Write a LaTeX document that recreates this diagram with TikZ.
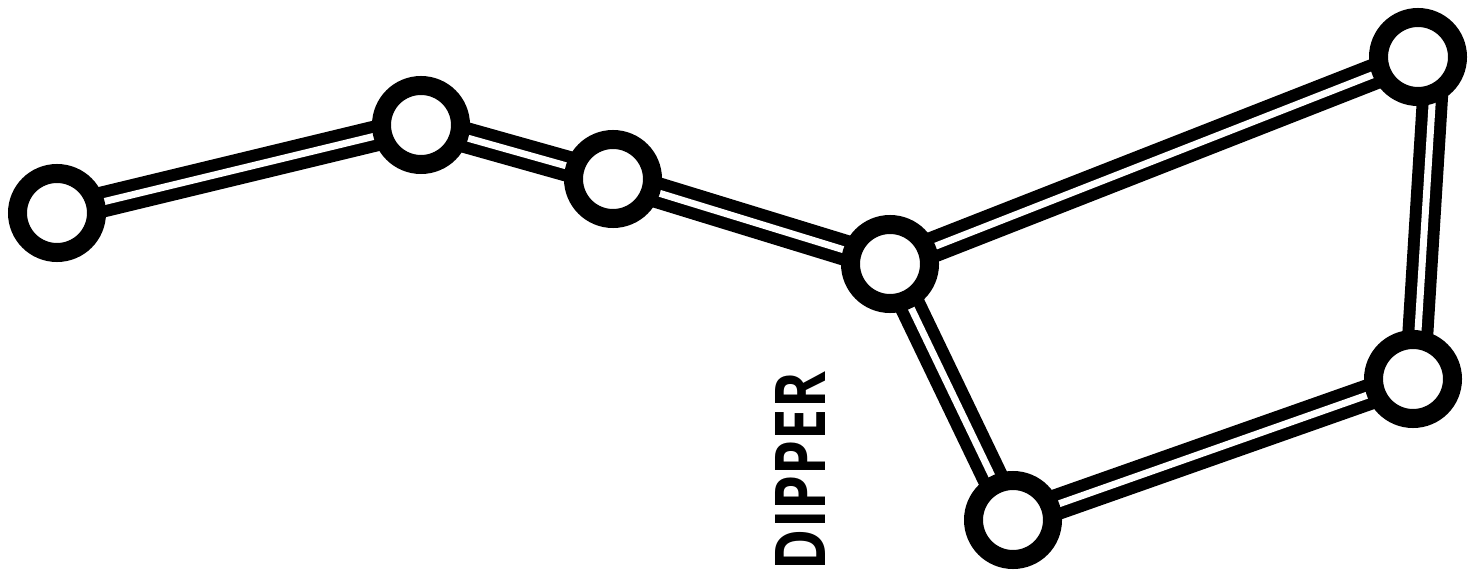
\documentclass[tikz,border=0pt]{standalone}
\usepackage{fontspec}
\usepackage{graphicx}
\setsansfont{Open Sans}
\usetikzlibrary{backgrounds,calc}
\tikzset{
  star/.style={circle, draw=black, fill=white, line width=19bp, minimum size=79bp, inner sep=0pt},
  link/.style={draw=black, line width=12bp, double=white, double distance=7bp},
}
\begin{document}
\begin{tikzpicture}[x=1bp, y=-1bp]
\useasboundingbox (0,0) rectangle (1481,574);
\node[star] (s1) at (57,213) {};
\node[star] (s2) at (421,125) {};
\node[star] (s3) at (613,179) {};
\node[star] (s4) at (890,264) {};
\node[star] (s5) at (1418,57) {};
\node[star] (s6) at (1413,379) {};
\node[star] (s7) at (1013,520) {};
\begin{pgfonlayer}{background}
\draw[link] (s1.center) -- (s2.center);
\draw[link] (s2.center) -- (s3.center);
\draw[link] (s3.center) -- (s4.center);
\draw[link] (s4.center) -- (s5.center);
\draw[link] ($(s5.center)+(17,0)$) -- ($(s6.center)+(2,0)$);
\draw[link] (s6.center) -- (s7.center);
\draw[link] (s7.center) -- (s4.center);
\end{pgfonlayer}
\node[inner sep=0pt, rotate=90] (label) at (800,471) {\resizebox{198bp}{50bp}{\sffamily\bfseries DIPPER}};
\end{tikzpicture}
\end{document}
